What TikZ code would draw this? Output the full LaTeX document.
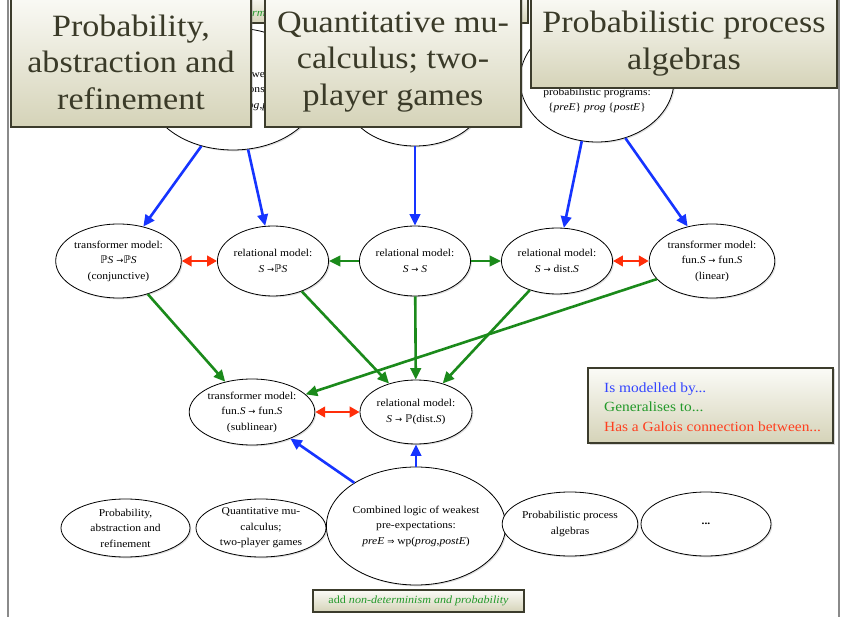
\documentclass[tikz,border=0pt]{standalone}
\usepackage{fontspec}
\setmainfont{Liberation Serif}[FakeStretch=1.1]
\newfontfamily\symf{DejaVu Sans}
\usetikzlibrary{arrows.meta,shapes.geometric,shadows}

\definecolor{titletxt}{HTML}{3A3A28}
\definecolor{boxedge}{HTML}{3C3C2C}
\definecolor{boxtop}{HTML}{FBFBF7}
\definecolor{boxbot}{HTML}{D5D3B8}
\definecolor{isblue}{HTML}{1634FF}
\definecolor{gengreen}{HTML}{1B8A1B}
\definecolor{galred}{HTML}{FF2E0A}
\definecolor{legblue}{HTML}{3344FF}
\definecolor{leggreen}{HTML}{23992A}
\definecolor{legred}{HTML}{FF3F1F}
\definecolor{slideframe}{HTML}{8A8A8A}

% symbols taken from DejaVu Sans
\newcommand{\PP}{{\symf ℙ}}
\newcommand{\tto}{{\symf\fontsize{8.5}{8.5}\selectfont →}}
\newcommand{\imp}{{\symf\fontsize{8.5}{8.5}\selectfont ⇒}}

\begin{document}
\begin{tikzpicture}[x=1pt,y=-1pt,
  model/.style={ellipse, draw=black, line width=0.8pt, fill=white, align=center,
    inner sep=0pt, font=\fontsize{10.5}{15.5}\selectfont,
    drop shadow={opacity=0.25, shadow xshift=1.3pt, shadow yshift=-1.3pt}},
  plaintext/.style={align=center, inner sep=0pt, font=\fontsize{10.5}{15.5}\selectfont},
  titlebox/.style={draw=boxedge, line width=2.2pt, top color=boxtop, bottom color=boxbot,
    drop shadow={opacity=0.3, shadow xshift=1.5pt, shadow yshift=-1.5pt}},
  bannerbox/.style={draw=boxedge, line width=1.8pt, top color=boxtop, bottom color=boxbot,
    drop shadow={opacity=0.3, shadow xshift=1.2pt, shadow yshift=-1.2pt}},
  titletext/.style={align=center, inner sep=0pt, text=titletxt,
    font=\fontsize{31}{36.5}\selectfont},
  tip/.style={-{Triangle[length=11.5pt,width=10.5pt]}},
  isby/.style={draw=isblue, line width=2.6pt, tip},
  gen/.style={draw=gengreen, line width=2.6pt, tip},
  galois/.style={draw=galred, line width=2.6pt,
    {Triangle[length=10pt,width=10.5pt]}-{Triangle[length=10pt,width=10.5pt]}},
  frameline/.style={draw=slideframe, line width=1.8pt}
]
\useasboundingbox (0,0) rectangle (843,617);
\clip (0,0) rectangle (843,617);
\fill[white] (0,0) rectangle (843,617);

% slide edges
\draw[frameline] (8,-2) -- (8,619);
\draw[frameline] (839,-2) -- (839,619);

% logics along the top
\node[model, minimum width=172pt, minimum height=122pt] (TL) at (233,89) {};
\node[plaintext] (TLtxt) at (233,90)
  {Standard logic of weakest\hspace*{8pt}\\pre-conditions:\\
   \hspace*{12pt}\textit{pre} \imp\ wp(\textit{prog},\textit{post})};
\node[model, minimum width=140pt, minimum height=100pt] (TM) at (415,96) {};
\node[model, minimum width=154pt, minimum height=124pt] (TR) at (597,80) {};
\node[plaintext] (TRtxt) at (597,100.5)
  {probabilistic programs:\\\{\textit{preE}\} \textit{prog} \{\textit{postE}\}};

% models
\node[model, minimum width=123pt, minimum height=74pt] (T1) at (118.5,261)
  {transformer model:\\\PP\textit{S} \tto\PP\textit{S}\\(conjunctive)};
\node[model, minimum width=110pt, minimum height=70pt] (R1) at (273,261)
  {relational model:\\\textit{S} \tto\PP\textit{S}};
\node[model, minimum width=110pt, minimum height=70pt] (R2) at (415,261)
  {relational model:\\\textit{S} \tto\ \textit{S}};
\node[model, minimum width=110pt, minimum height=66pt] (R3) at (557,261)
  {relational model:\\\textit{S} \tto\ dist.\textit{S}};
\node[model, minimum width=122pt, minimum height=74pt] (T2) at (712,261)
  {transformer model:\\fun.\textit{S} \tto\ fun.\textit{S}\\(linear)};

\node[model, minimum width=124pt, minimum height=66pt] (T3) at (252,412)
  {transformer model:\\fun.\textit{S} \tto\ fun.\textit{S}\\(sublinear)};
\node[model, minimum width=112pt, minimum height=64pt] (R4) at (416,412)
  {relational model:\\\textit{S} \tto\ \PP(dist.\textit{S})};

% application areas
\node[model, minimum width=129pt, minimum height=58pt] (B1) at (125.5,528)
  {Probability,\\abstraction and\\refinement};
\node[model, minimum width=130pt, minimum height=58pt] (B2) at (261,528)
  {Quantitative mu-\\calculus;\\two-player games};
\node[model, minimum width=168pt, minimum height=118pt] (B3) at (416,526)
  {Combined logic of weakest\\pre-expectations:\\\textit{preE} \imp\ wp(\textit{prog},\textit{postE})};
\node[model, minimum width=130pt, minimum height=64pt] (B4) at (570,524)
  {Probabilistic process\\algebras};
\node[model, minimum width=130pt, minimum height=64pt] (B5) at (706,524)
  {\textbf{...}};

% is modelled by
\draw[isby] (TL.241) -- (T1);
\draw[isby] (TL.284) -- (R1);
\draw[isby] (TM) -- (R2);
\draw[isby] (TR.256) -- (R3);
\draw[isby] (TR.296) -- (T2);
\draw[isby] (B3.145) -- (T3);
\draw[isby] (B3) -- (R4);

% generalises to
\draw[gen] (R2) -- (R1);
\draw[gen] (R2) -- (R3);
\draw[gen] (T1) -- (T3);
\draw[gen] (R1) -- (R4);
\draw[gen] (R2) -- (R4);
\draw[gen] (R3) -- (R4);
\draw[gen] (T2) -- (T3);

% Galois connections
\draw[galois] (T1) -- (R1);
\draw[galois] (R3) -- (T2);
\draw[galois] (T3) -- (R4);

% banners
\path[bannerbox] (250,-5) rectangle (528,23);
\node[anchor=base west, inner sep=0pt, text=leggreen,
  font=\fontsize{11}{13}\selectfont\itshape] (topbanner) at (252,17) {rm};
\node[bannerbox, minimum width=211pt, minimum height=22pt, inner sep=0pt,
  text=leggreen, font=\fontsize{11}{13}\selectfont] (addbanner) at (418.5,601)
  {add \textit{non-determinism and probability}};

% title boxes
\path[titlebox] (11,-6) rectangle (251,127);
\node[titletext] (ttlA) at (131,62) {Probability,\\abstraction and\\refinement};
\path[titlebox] (265,-6) rectangle (521,127);
\node[titletext] (ttlB) at (393,62) {Quantitative mu-\\calculus; two-\\player games};
\path[titlebox] (531,-6) rectangle (837,88);
\node[titletext] (ttlC) at (684,43.5) {Probabilistic process\\algebras};

% legend
\path[titlebox] (588,368) rectangle (833,443);
\node[anchor=west, align=left, inner sep=0pt, font=\fontsize{14}{19.5}\selectfont]
  (legend) at (604,407)
  {\textcolor{legblue}{Is modelled by...}\\
   \textcolor{leggreen}{Generalises to...}\\
   \textcolor{legred}{Has a Galois connection between...}};
\end{tikzpicture}
\end{document}
